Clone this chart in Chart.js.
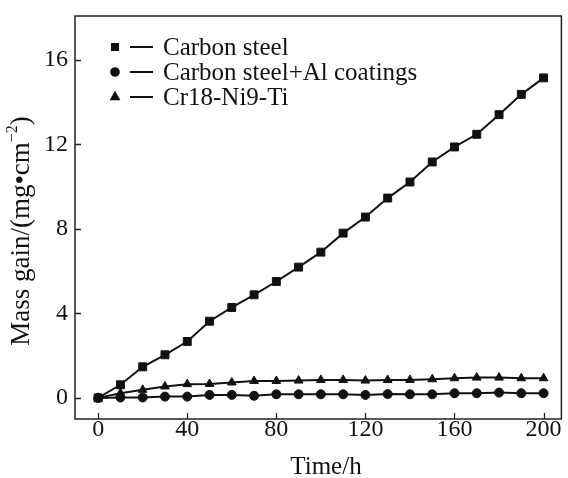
<!DOCTYPE html>
<html><head><meta charset="utf-8">
<script src="https://cdn.jsdelivr.net/npm/chart.js@4/dist/chart.umd.min.js"></script>
<style>html,body{margin:0;padding:0;background:#fff}#wrap{width:568px;height:478px}</style>
</head><body><div id="wrap"><canvas id="c" width="568" height="478"></canvas></div>
<script>
const times=[0,10,20,30,40,50,60,70,80,90,100,110,120,130,140,150,160,170,180,190,200];
const carbonSteel=[0,0.62,1.47,2.04,2.67,3.63,4.28,4.88,5.51,6.19,6.9,7.8,8.56,9.46,10.22,11.17,11.88,12.48,13.41,14.37,15.15];
const carbonSteelAl=[0,0.02,0.02,0.06,0.06,0.14,0.14,0.1,0.17,0.17,0.17,0.17,0.14,0.18,0.17,0.17,0.22,0.22,0.25,0.22,0.22];
const cr18Ni9Ti=[0,0.22,0.38,0.54,0.65,0.66,0.73,0.8,0.8,0.82,0.85,0.85,0.82,0.85,0.85,0.88,0.93,0.96,0.96,0.93,0.93];
const seriesLabels=['Carbon steel','Carbon steel+Al coatings','Cr18-Ni9-Ti'];
const xTicks=[0,40,80,120,160,200];
const yTicks=[0,4,8,12,16];
const xTitle='Time/h';
const yTitleMain='Mass gain/(mg\u2022cm';
const yTitleSup='\u22122';
const yTitleEnd=')';

const FONT='"Liberation Serif","Times New Roman",serif';
const toXY=(arr)=>arr.map((v,i)=>({x:times[i],y:v}));

const framePlugin={
  id:'frame',
  afterDatasetsDraw(chart){
    const ctx=chart.ctx;const a=chart.chartArea;
    const xs=chart.scales.x, ys=chart.scales.y;
    ctx.save();
    ctx.strokeStyle='#222';ctx.lineWidth=1.5;
    ctx.strokeRect(a.left,a.top,a.right-a.left,a.bottom-a.top);
    ctx.lineWidth=1.3;
    ctx.beginPath();
    yTicks.forEach(v=>{const p=Math.round(ys.getPixelForValue(v))+0.5;ctx.moveTo(a.left,p);ctx.lineTo(a.left+6,p);});
    xTicks.forEach(v=>{const p=Math.round(xs.getPixelForValue(v))+0.5;ctx.moveTo(p,a.bottom);ctx.lineTo(p,a.bottom-6);});
    ctx.stroke();
    // legend
    ctx.font='25px '+FONT;ctx.textBaseline='middle';ctx.fillStyle='#111';
    chart.data.datasets.forEach((ds,i)=>{
      const y=47+i*25;
      ctx.fillStyle='#111';ctx.strokeStyle='#111';
      Chart.helpers.drawPoint(ctx,{pointStyle:ds.pointStyle,radius:ds.pointRadius*0.85,rotation:0,borderWidth:1},115,y);
      ctx.lineWidth=2;ctx.beginPath();ctx.moveTo(130,y);ctx.lineTo(153,y);ctx.stroke();
      ctx.fillText(ds.label,163,y+1);
    });
    // x title
    ctx.textAlign='center';ctx.textBaseline='middle';ctx.font='25px '+FONT;
    ctx.fillText(xTitle,326,467);
    // y title (rotated, with superscript)
    ctx.translate(22,231);ctx.rotate(-Math.PI/2);
    const fMain='27px '+FONT, fSup='16px '+FONT;
    ctx.font=fMain;const w1=ctx.measureText(yTitleMain).width, w3=ctx.measureText(yTitleEnd).width;
    ctx.font=fSup;const w2=ctx.measureText(yTitleSup).width;
    let x0=-(w1+w2+w3)/2;
    ctx.textAlign='left';
    ctx.font=fMain;ctx.fillText(yTitleMain,x0,0);
    ctx.font=fSup;ctx.fillText(yTitleSup,x0+w1,-9);
    ctx.font=fMain;ctx.fillText(yTitleEnd,x0+w1+w2,0);
    ctx.restore();
  }
};

const mk=(label,data,style,r)=>({label,data:toXY(data),pointStyle:style,pointRadius:r,borderColor:'#111',backgroundColor:'#111',pointBackgroundColor:'#111',pointBorderColor:'#111',borderWidth:2,pointBorderWidth:1,tension:0});

new Chart(document.getElementById('c'),{
  type:'line',
  data:{datasets:[
    mk(seriesLabels[0],carbonSteel,'rect',5.6),
    mk(seriesLabels[1],carbonSteelAl,'circle',4.5),
    mk(seriesLabels[2],cr18Ni9Ti,'triangle',5)
  ]},
  options:{
    responsive:false,devicePixelRatio:1,animation:false,
    layout:{padding:{top:16,right:5,left:0,bottom:0}},
    plugins:{legend:{display:false},tooltip:{enabled:false}},
    scales:{
      x:{type:'linear',min:-10.4,max:208,
        afterBuildTicks(s){s.ticks=xTicks.map(v=>({value:v}));},
        afterFit(s){s.height=59;},
        grid:{display:false,drawTicks:false},border:{display:false},
        ticks:{font:{family:FONT,size:24,lineHeight:0.6},color:'#111',padding:4,maxRotation:0,autoSkip:false},
        title:{display:false}
      },
      y:{type:'linear',min:-1,max:18.08,
        afterBuildTicks(s){s.ticks=yTicks.map(v=>({value:v}));},
        afterFit(s){s.width=75;},
        grid:{display:false,drawTicks:false},border:{display:false},
        ticks:{font:{family:FONT,size:24,lineHeight:0.6},color:'#111',padding:7,autoSkip:false},
        title:{display:false}
      }
    }
  },
  plugins:[framePlugin]
});
</script></body></html>
